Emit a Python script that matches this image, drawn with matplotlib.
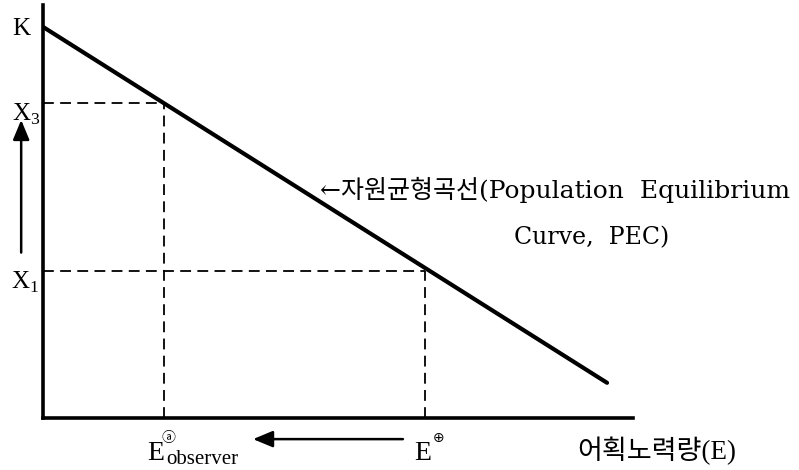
import matplotlib.pyplot as plt

plt.rcParams['font.family'] = ['Liberation Serif', 'Noto Sans CJK KR']
plt.rcParams['mathtext.fontset'] = 'custom'
plt.rcParams['mathtext.rm'] = 'Liberation Serif'

# 자원균형곡선 (PEC): 어획노력량 E -> 자원량 X
pec_e = [0, 95.6]
pec_x = [100, 9.0]
K = 100
e_obs, x3 = 20.5, 80.5
e_oa, x1 = 64.7, 37.5

fig = plt.figure(figsize=(7.99, 4.70), dpi=100)
ax = fig.add_axes([43 / 799, 52 / 470, 590 / 799, 413 / 470])
ax.set_xlim(0, 100)
ax.set_ylim(0, 105.6)
for s in ['top', 'right']:
    ax.spines[s].set_visible(False)
for s in ['left', 'bottom']:
    ax.spines[s].set_linewidth(2.6)
ax.set_xticks([])
ax.set_yticks([])

ax.plot(pec_e, pec_x, color='k', lw=3, solid_capstyle='round')

# 점선
for e, x in [(e_obs, x3), (e_oa, x1)]:
    ax.plot([0, e], [x, x], color='k', lw=1.3, dashes=(6, 3.5))
    ax.plot([e, e], [0, x], color='k', lw=1.3, dashes=(6, 3.5))

# y축 라벨
ax.annotate('K', xy=(0, K), xytext=(-9, -1.5), textcoords='offset points',
            ha='right', va='center', fontsize=18, annotation_clip=False)
ax.annotate('X$_3$', xy=(0, x3), xytext=(-1.5, 1), textcoords='offset points',
            ha='right', va='top', fontsize=18, annotation_clip=False)
ax.annotate('X$_1$', xy=(0, x1), xytext=(-3, 1), textcoords='offset points',
            ha='right', va='top', fontsize=18, annotation_clip=False)

arr = dict(arrowstyle='-|>,head_length=0.6,head_width=0.25', lw=1.8,
           color='k', shrinkA=0, shrinkB=0, mutation_scale=20)
ax.annotate('', xy=(-3.7, x3 - 4.3), xytext=(-3.7, x1 + 4.8),
            arrowprops=arr, annotation_clip=False)

# x축 라벨
ax.annotate('E', xy=(e_obs, 0), xytext=(-12.2, -30), textcoords='offset points',
            ha='left', va='baseline', fontsize=20, annotation_clip=False)
ax.annotate('\u24d0', xy=(e_obs, 0), xytext=(-2, -17), textcoords='offset points',
            ha='left', va='baseline', fontsize=10, family=['Noto Sans CJK KR'],
            annotation_clip=False)
ax.annotate('observer', xy=(e_obs, 0), xytext=(1.5, -32.8), textcoords='offset points',
            ha='left', va='baseline', fontsize=15, annotation_clip=False)
ax.annotate('E', xy=(e_oa, 0), xytext=(-7.5, -30), textcoords='offset points',
            ha='left', va='baseline', fontsize=20, annotation_clip=False)
ax.annotate('\u2295', xy=(e_oa, 0), xytext=(5.5, -17.5), textcoords='offset points',
            ha='left', va='baseline', fontsize=10, family=['DejaVu Sans'],
            annotation_clip=False)
ax.annotate('', xy=(e_obs + 15.1, -5.4), xytext=(e_oa - 3.7, -5.4),
            arrowprops=arr, annotation_clip=False)

ax.annotate('어획노력량(E)', xy=(1, 0), xycoords='axes fraction',
            xytext=(-40, -29.5), textcoords='offset points',
            ha='left', va='baseline', fontsize=19.5, annotation_clip=False)

# 곡선 설명
ax.text(47, 58.3, '←자원균형곡선(Population  Equilibrium', fontsize=18,
        family=['DejaVu Serif', 'Noto Sans CJK KR'],
        ha='left', va='center', clip_on=False)
ax.text(93.0, 46.0, 'Curve,  PEC)', fontsize=17,
        family=['DejaVu Serif', 'Noto Sans CJK KR'],
        ha='center', va='center', clip_on=False)

fig.savefig('out.png', dpi=100)
